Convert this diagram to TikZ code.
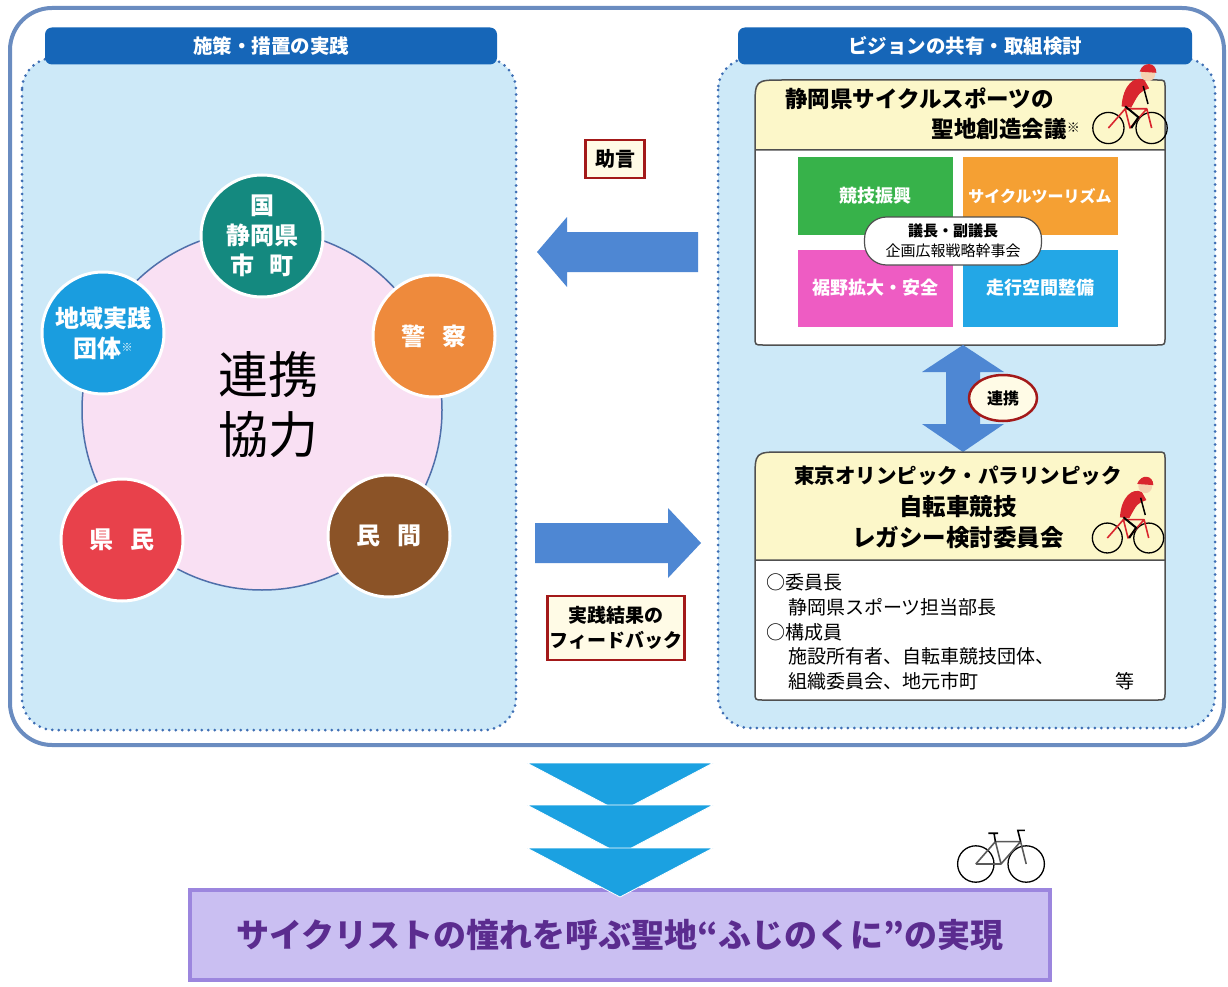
\documentclass[tikz,border=0pt]{standalone}
\usepackage{fontspec}
\setmainfont{Noto Sans CJK JP}
\usetikzlibrary{positioning, shapes.geometric}

\definecolor{frameblue}{HTML}{6A8CC0}
\definecolor{barblue}{HTML}{1666B8}
\definecolor{panelblue}{HTML}{CDE9F8}
\definecolor{dotblue}{HTML}{3E6EB4}
\definecolor{ringpink}{HTML}{F9E0F3}
\definecolor{ringline}{HTML}{4F6FAA}
\definecolor{govteal}{HTML}{14897F}
\definecolor{groupblue}{HTML}{1A9DDF}
\definecolor{policeorange}{HTML}{EE8A3C}
\definecolor{citizenred}{HTML}{E8414B}
\definecolor{privatebrown}{HTML}{8B5327}
\definecolor{arrowblue}{HTML}{4E87D3}
\definecolor{chevblue}{HTML}{1BA1E1}
\definecolor{labelred}{HTML}{A31919}
\definecolor{labelcream}{HTML}{FFFBE6}
\definecolor{cardyellow}{HTML}{FCF7C9}
\definecolor{cardgray}{HTML}{505050}
\definecolor{sportgreen}{HTML}{37B24A}
\definecolor{tourorange}{HTML}{F5A033}
\definecolor{basepink}{HTML}{EE5CC3}
\definecolor{roadblue}{HTML}{23A7E6}
\definecolor{goalfill}{HTML}{CABFF2}
\definecolor{goaledge}{HTML}{9C86DE}
\definecolor{goaltext}{HTML}{5B2C8F}
\definecolor{riderred}{HTML}{D9262E}
\definecolor{skin}{HTML}{F6D2B0}

% small bicycle, optionally with a rider on it
\newcommand{\bikeicon}[2]{%
  \begin{scope}[shift={(#1)}, scale=#2]
    \draw[line width=1.3pt] (-18,0) circle (13) (18,0) circle (13);
    \draw[gray!70!black, line width=1.6pt, line join=round]
      (-18,0) -- (-4,-16) -- (14,-16) -- (18,0) (-4,-16) -- (0,0) -- (14,-16) (0,0) -- (-18,0);
    \draw[line width=1.6pt] (-9,-22) -- (-2,-22) (-4,-16) -- (-5,-22) (14,-16) -- (12,-24) -- (17,-24);
  \end{scope}}
\newcommand{\ridericon}[2]{%
  \begin{scope}[shift={(#1)}, scale=#2]
    \draw[line width=1.3pt] (-18,0) circle (13) (18,0) circle (13);
    \draw[riderred, line width=1.6pt, line join=round]
      (-18,0) -- (-4,-16) -- (14,-16) -- (18,0) (-4,-16) -- (0,0) -- (14,-16);
    \fill[riderred] (-7,-18) .. controls (-6,-36) and (4,-44) .. (12,-40) -- (16,-33) .. controls (8,-30) .. (1,-17) -- cycle;
    \draw[line width=2pt] (-4,-18) -- (7,-9) -- (1,0);
    \draw[line width=1.5pt] (11,-35) -- (15,-20);
    \fill[skin] (15,-45) circle (6);
    \fill[riderred] (8,-47) .. controls (11,-56) and (22,-55) .. (22,-46) -- cycle;
  \end{scope}}

\begin{document}
\begin{tikzpicture}[x=1pt, y=-1pt,
    panel/.style={fill=panelblue, draw=dotblue, line width=3pt, line cap=round,
      dash pattern=on 0pt off 6.5pt, rounded corners=32},
    headbar/.style={fill=barblue, rounded corners=7, text=white, inner sep=0pt,
      minimum width=452, minimum height=37, font=\bfseries\fontsize{19.5}{22}\selectfont},
    member/.style={circle, draw=white, line width=3pt, minimum size=122, inner sep=0pt,
      text=white, align=center, font=\bfseries\fontsize{24}{30}\selectfont},
    labelbox/.style={draw=labelred, line width=2.5pt, fill=labelcream, inner sep=2pt,
      align=center, font=\bfseries\fontsize{20}{26}\selectfont},
    groupbox/.style={minimum width=155, minimum height=77, inner sep=0pt, text=white,
      font=\bfseries\fontsize{18}{20}\selectfont},
    cardline/.style={draw=cardgray, line width=1.5pt},
    cardtitle/.style={inner sep=0pt, font=\bfseries\fontsize{23.5}{26}\selectfont},
    cardtext/.style={anchor=west, inner sep=0pt, font=\fontsize{19}{22}\selectfont},
    chevron/.style={fill=chevblue, draw=white, line width=0.8pt}
  ]
  \useasboundingbox (0,0) rectangle (1228,987);
  \fill[white] (0,0) rectangle (1228,987);

  % outer frame and the two dotted panels
  \draw[frameblue, line width=4pt, rounded corners=42, fill=white] (10,8) rectangle (1224,745);
  \draw[panel] (22,58) rectangle (516,730);
  \draw[panel] (718,58) rectangle (1215,728);
  \node[headbar] (practice) at (271,46) {施策・措置の実践};
  \node[headbar, minimum width=454] (vision) at (965,46) {ビジョンの共有・取組検討};

  % partners around the ring
  \node[circle, minimum size=360, fill=ringpink, draw=ringline, line width=1.5pt] (ring) at (262,410) {};
  \node[font=\fontsize{50}{60}\selectfont, align=center] (coop) at (268,405) {連携\\協力};
  \node[member, fill=govteal] (gov) at (262,236) {国\\静岡県\\市\hspace{0.6em}町};
  \node[member, fill=groupblue] (local) at (103,333) {地域実践\\団体\raisebox{6pt}{\fontsize{11}{11}\selectfont ※}};
  \node[member, fill=policeorange] (police) at (434,336) {警\hspace{0.7em}察};
  \node[member, fill=citizenred] (citizen) at (122,540) {県\hspace{0.7em}民};
  \node[member, fill=privatebrown] (private) at (389,536) {民\hspace{0.7em}間};

  % advice arrow (to the left)
  \coordinate (adviceTip) at (537,252);
  \fill[arrowblue] (adviceTip) -- ++(30,-35) -- ++(0,15) -- ++(131,0) -- ++(0,40) -- ++(-131,0) -- ++(0,15) -- cycle;
  \node[labelbox, minimum width=59, minimum height=38] (advice) at (615,159) {助言};

  % feedback arrow (to the right)
  \coordinate (feedbackTip) at (701,543);
  \fill[arrowblue] (feedbackTip) -- ++(-33,-35) -- ++(0,15) -- ++(-133,0) -- ++(0,40) -- ++(133,0) -- ++(0,15) -- cycle;
  \node[labelbox, minimum width=135, minimum height=64, font=\bfseries\fontsize{19}{25}\selectfont] (feedback) at (616,628) {実践結果の\\フィードバック};

  % council card
  \fill[cardyellow] (755,150) -- (755,108) .. controls (755,80) .. (783,80) -- (1157,80) .. controls (1165,80) .. (1165,88) -- (1165,150) -- cycle;
  \fill[white] (755,150) -- (1165,150) -- (1165,337) .. controls (1165,345) .. (1157,345) -- (763,345) .. controls (755,345) .. (755,337) -- cycle;
  \draw[cardline] (755,337) -- (755,108) .. controls (755,80) .. (783,80) -- (1157,80) .. controls (1165,80) .. (1165,88)
    -- (1165,337) .. controls (1165,345) .. (1157,345) -- (763,345) .. controls (755,345) .. (755,337) -- cycle (755,150) -- (1165,150);
  \node[cardtitle, anchor=west, font=\bfseries\fontsize{22.5}{26}\selectfont] (councilA) at (785,99) {静岡県サイクルスポーツの};
  \node[cardtitle, anchor=east, font=\bfseries\fontsize{22.5}{26}\selectfont] (councilB) at (1080,129) {聖地創造会議\raisebox{5pt}{\fontsize{13}{13}\selectfont ※}};
  \ridericon{1130,128}{1.2}

  \node[groupbox, fill=sportgreen] (sport) at (875.5,196) {競技振興};
  \node[groupbox, fill=tourorange, font=\bfseries\fontsize{16}{20}\selectfont] (tourism) at (1040,196) {サイクルツーリズム};
  \node[groupbox, fill=basepink] (base) at (875.5,288) {裾野拡大・安全};
  \node[groupbox, fill=roadblue] (road) at (1040,288) {走行空間整備};
  \node[draw=cardgray, line width=1.2pt, fill=white, rounded corners=22, minimum width=177, minimum height=48,
    align=center, inner sep=0pt, font=\fontsize{15}{20}\selectfont] (chair) at (953,241) {{\bfseries 議長・副議長}\\企画広報戦略幹事会};

  % link between the two cards
  \coordinate (linkTop) at (963,345);
  \fill[arrowblue] (linkTop) -- ++(41,27) -- ++(-24,0) -- ++(0,52) -- ++(24,0) -- ++(-41,28)
    -- ++(-41,-28) -- ++(24,0) -- ++(0,-52) -- ++(-24,0) -- cycle;
  \node[ellipse, draw=labelred, line width=2.5pt, fill=labelcream, minimum width=68, minimum height=46,
    inner sep=0pt, font=\bfseries\fontsize{16}{18}\selectfont] (link) at (1003,398) {連携};

  % legacy committee card
  \fill[cardyellow] (755,560) -- (755,480) .. controls (755,452) .. (783,452) -- (1157,452) .. controls (1165,452) .. (1165,460) -- (1165,560) -- cycle;
  \fill[white] (755,560) -- (1165,560) -- (1165,692) .. controls (1165,700) .. (1157,700) -- (763,700) .. controls (755,700) .. (755,692) -- cycle;
  \draw[cardline] (755,692) -- (755,480) .. controls (755,452) .. (783,452) -- (1157,452) .. controls (1165,452) .. (1165,460)
    -- (1165,692) .. controls (1165,700) .. (1157,700) -- (763,700) .. controls (755,700) .. (755,692) -- cycle (755,560) -- (1165,560);
  \node[cardtitle, font=\bfseries\fontsize{20.5}{24}\selectfont] (legacyA) at (958,476) {東京オリンピック・パラリンピック};
  \node[cardtitle] (legacyB) at (958,507) {自転車競技};
  \node[cardtitle] (legacyC) at (958,538) {レガシー検討委員会};
  \ridericon{1128,538}{1.15}
  \node[cardtext] (chairHead) at (766,582) {○委員長};
  \node[cardtext] (chairName) at (788,607) {静岡県スポーツ担当部長};
  \node[cardtext] (memberHead) at (766,632) {○構成員};
  \node[cardtext] (memberA) at (788,656) {施設所有者、自転車競技団体、};
  \node[cardtext] (memberB) at (788,681) {組織委員会、地元市町};
  \node[cardtext] (etc) at (1115,681) {等};

  % goal bar and the chevrons above it
  \node[draw=goaledge, line width=4pt, fill=goalfill, minimum width=860, minimum height=90, inner sep=0pt,
    text=goaltext, font=\bfseries\fontsize{33}{36}\selectfont] (goal) at (620,935) {サイクリストの憧れを呼ぶ聖地“ふじのくに”の実現};
  \foreach \ytop in {763,805,848}
    \filldraw[chevron] (527,\ytop) -- (713,\ytop) -- (620,\ytop+49) -- cycle;
  \bikeicon{1001,864}{1.4}
\end{tikzpicture}
\end{document}
